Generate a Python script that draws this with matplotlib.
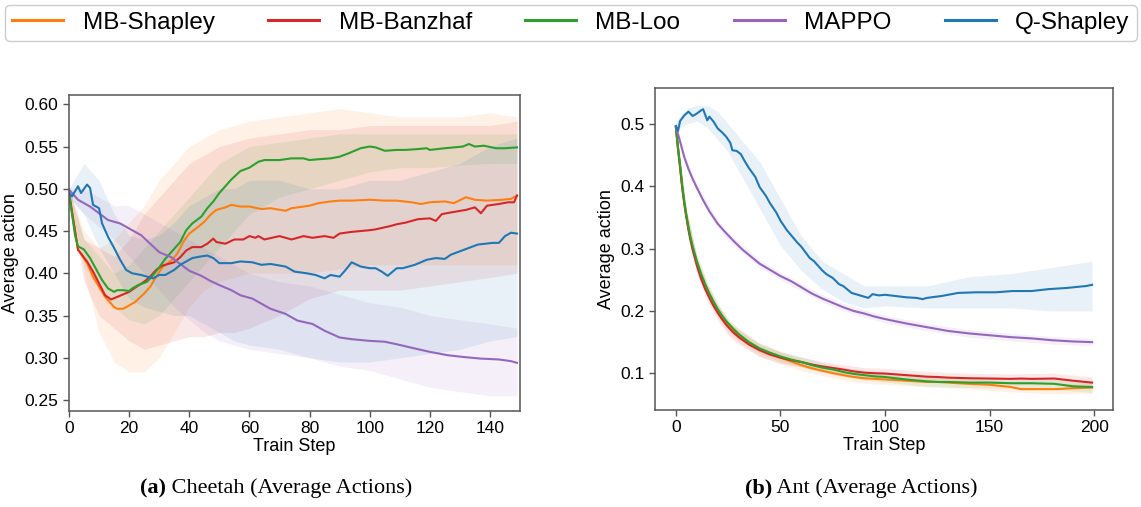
import matplotlib
matplotlib.use("Agg")
import matplotlib.pyplot as plt
from matplotlib.lines import Line2D

plt.rcParams['font.family'] = ['Liberation Sans', 'DejaVu Sans']

methodNames = ["MB-Shapley", "MB-Banzhaf", "MB-Loo", "MAPPO", "Q-Shapley"]
methodColors = ["#ff7f0e", "#d62728", "#2ca02c", "#9467bd", "#1f77b4"]

# ---------------- (a) Cheetah ----------------
cheetahShapleyX = [0,3,6,8,10,12,15,16,18,20,22,25,27,29,31,34,36,38,40,43,45,47,49,52,54,57,60,64,67,72,74,80,83,87,90,94,100,105,109,114,117,120,125,128,132,135,139,144,147,149]
cheetahShapleyY = [0.495,0.428,0.412,0.396,0.384,0.372,0.360,0.358,0.358,0.362,0.366,0.376,0.384,0.396,0.407,0.415,0.423,0.437,0.447,0.455,0.461,0.469,0.475,0.478,0.481,0.479,0.479,0.476,0.477,0.474,0.477,0.480,0.483,0.485,0.486,0.486,0.487,0.486,0.486,0.484,0.482,0.484,0.485,0.483,0.490,0.487,0.486,0.487,0.488,0.492]

cheetahBanzhafX = [0,3,6,8,10,12,14,16,18,20,22,25,27,29,31,34,35,37,39,41,44,46,48,49,52,55,58,60,62,63,65,70,74,78,81,85,88,90,94,100,102,107,109,112,116,120,122,124,127,132,135,137,139,143,146,148,149]
cheetahBanzhafY = [0.495,0.428,0.414,0.402,0.388,0.374,0.369,0.372,0.375,0.378,0.383,0.390,0.396,0.404,0.409,0.412,0.413,0.419,0.427,0.431,0.431,0.435,0.441,0.437,0.435,0.440,0.440,0.444,0.442,0.444,0.440,0.444,0.440,0.444,0.442,0.444,0.442,0.447,0.449,0.451,0.452,0.456,0.458,0.460,0.464,0.465,0.462,0.470,0.472,0.475,0.478,0.471,0.480,0.482,0.484,0.484,0.492]

cheetahLooX = [0,2,3,5,7,9,11,13,15,16,18,20,21,23,26,28,30,32,35,37,39,41,44,46,48,50,54,57,60,63,65,70,74,78,80,83,87,90,93,97,100,102,105,109,112,116,119,120,125,128,131,133,135,138,142,145,149]
cheetahLooY = [0.495,0.445,0.432,0.428,0.418,0.405,0.392,0.382,0.378,0.380,0.380,0.379,0.382,0.386,0.390,0.398,0.407,0.417,0.429,0.437,0.451,0.459,0.467,0.477,0.485,0.495,0.511,0.521,0.525,0.532,0.534,0.534,0.536,0.536,0.534,0.535,0.536,0.538,0.542,0.548,0.550,0.549,0.545,0.546,0.546,0.547,0.548,0.546,0.548,0.549,0.550,0.553,0.550,0.551,0.548,0.548,0.549]

cheetahMappoX = [0,3,7,10,13,17,20,24,27,30,34,37,40,44,47,50,54,57,61,64,67,72,76,81,85,90,94,100,105,109,115,120,126,131,137,143,147,149]
cheetahMappoY = [0.499,0.487,0.479,0.471,0.463,0.459,0.453,0.445,0.435,0.425,0.419,0.411,0.403,0.397,0.391,0.386,0.380,0.374,0.370,0.364,0.358,0.352,0.344,0.340,0.332,0.324,0.322,0.320,0.319,0.316,0.311,0.307,0.303,0.301,0.299,0.298,0.296,0.294]

cheetahQShapleyX = [0,1,3,4,6,7,8,10,11,13,15,17,19,21,24,26,28,30,32,35,37,39,41,44,46,48,50,54,57,61,64,67,72,75,79,82,85,87,90,92,94,97,100,102,104,106,107,109,111,115,119,122,125,127,130,133,136,141,143,145,147,149]
cheetahQShapleyY = [0.495,0.491,0.503,0.495,0.505,0.501,0.481,0.477,0.459,0.443,0.430,0.416,0.404,0.400,0.398,0.396,0.394,0.398,0.398,0.404,0.410,0.414,0.418,0.420,0.421,0.418,0.412,0.412,0.414,0.413,0.410,0.411,0.408,0.402,0.400,0.398,0.394,0.398,0.396,0.404,0.413,0.408,0.406,0.406,0.402,0.397,0.400,0.406,0.406,0.410,0.416,0.418,0.417,0.422,0.426,0.430,0.434,0.436,0.436,0.444,0.448,0.447]

cheetahBandX = [0,5,10,15,20,25,30,35,40,45,50,55,60,70,80,90,100,110,120,130,140,149]
cheetahShapleyLow = [0.49,0.40,0.33,0.295,0.283,0.283,0.30,0.33,0.36,0.38,0.39,0.395,0.40,0.40,0.40,0.405,0.41,0.41,0.41,0.41,0.41,0.41]
cheetahShapleyHigh = [0.50,0.45,0.43,0.44,0.46,0.48,0.51,0.53,0.55,0.56,0.57,0.575,0.58,0.585,0.59,0.595,0.59,0.585,0.585,0.585,0.59,0.585]
cheetahBanzhafLow = [0.49,0.39,0.35,0.335,0.32,0.31,0.315,0.32,0.325,0.325,0.33,0.33,0.335,0.35,0.37,0.38,0.38,0.38,0.385,0.39,0.395,0.40]
cheetahBanzhafHigh = [0.50,0.44,0.43,0.42,0.44,0.47,0.49,0.51,0.53,0.54,0.55,0.555,0.56,0.565,0.57,0.57,0.575,0.575,0.575,0.575,0.575,0.58]
cheetahLooLow = [0.49,0.41,0.38,0.36,0.345,0.34,0.35,0.37,0.39,0.41,0.43,0.45,0.47,0.49,0.50,0.51,0.52,0.525,0.525,0.528,0.53,0.53]
cheetahLooHigh = [0.50,0.44,0.42,0.40,0.41,0.43,0.45,0.47,0.49,0.51,0.53,0.54,0.55,0.555,0.56,0.565,0.565,0.565,0.565,0.565,0.565,0.565]
cheetahMappoLow = [0.49,0.47,0.455,0.44,0.42,0.40,0.38,0.36,0.345,0.33,0.32,0.315,0.31,0.305,0.30,0.29,0.285,0.275,0.265,0.26,0.255,0.255]
cheetahMappoHigh = [0.50,0.50,0.49,0.48,0.48,0.47,0.46,0.45,0.44,0.43,0.42,0.41,0.40,0.39,0.385,0.375,0.365,0.36,0.35,0.345,0.34,0.335]
cheetahQShapleyLow = [0.49,0.47,0.43,0.40,0.37,0.36,0.355,0.35,0.35,0.34,0.33,0.32,0.315,0.31,0.30,0.295,0.295,0.30,0.305,0.31,0.32,0.325]
cheetahQShapleyHigh = [0.50,0.53,0.51,0.47,0.445,0.44,0.445,0.46,0.48,0.49,0.50,0.50,0.51,0.51,0.50,0.50,0.51,0.51,0.52,0.53,0.55,0.56]

# ---------------- (b) Ant ----------------
antSwarmX = [0,1,2,3,4,5,6,7,8,10,12,14,16,18,20,22,24,27,30,35,40,45,50,55,60,65,70,76,80,85,90,95,100,110,120,125,130,140,150,160,165,170,181,190,199]
antShapleyY = [0.495,0.462,0.432,0.400,0.374,0.352,0.333,0.316,0.302,0.278,0.258,0.241,0.226,0.213,0.201,0.191,0.182,0.171,0.161,0.148,0.138,0.131,0.125,0.119,0.113,0.108,0.104,0.0995,0.097,0.094,0.092,0.091,0.090,0.088,0.086,0.086,0.085,0.083,0.0815,0.078,0.0745,0.0745,0.0745,0.076,0.077]
antBanzhafY = [0.495,0.460,0.430,0.398,0.372,0.350,0.330,0.313,0.298,0.273,0.252,0.235,0.221,0.208,0.197,0.187,0.178,0.167,0.158,0.146,0.137,0.130,0.125,0.121,0.118,0.114,0.111,0.108,0.106,0.103,0.101,0.100,0.0995,0.097,0.0945,0.094,0.093,0.092,0.0915,0.091,0.0915,0.091,0.0915,0.088,0.085]
antLooY = [0.495,0.462,0.433,0.402,0.376,0.354,0.335,0.318,0.304,0.280,0.260,0.243,0.228,0.215,0.203,0.193,0.184,0.173,0.163,0.150,0.140,0.133,0.127,0.122,0.118,0.113,0.109,0.1055,0.102,0.099,0.097,0.095,0.094,0.090,0.087,0.086,0.086,0.085,0.085,0.084,0.084,0.084,0.083,0.079,0.078]

antMappoX = [0,2,4,6,8,10,13,16,20,24,28,32,36,40,45,50,55,60,65,70,75,80,85,90,95,100,110,120,130,140,150,160,170,180,190,199]
antMappoY = [0.496,0.472,0.447,0.428,0.412,0.398,0.378,0.360,0.340,0.325,0.311,0.298,0.287,0.276,0.266,0.256,0.248,0.238,0.228,0.220,0.213,0.206,0.200,0.196,0.191,0.187,0.180,0.174,0.168,0.164,0.161,0.158,0.156,0.153,0.151,0.150]

antQShapleyX = [0,1,2,4,6,8,10,12,13,15,16,18,20,22,24,26,27,29,31,33,35,38,40,43,45,48,50,53,55,58,60,62,64,66,70,72,75,78,80,84,89,92,94,97,100,105,110,115,118,120,127,135,144,153,161,170,178,187,196,199]
antQShapleyY = [0.497,0.489,0.505,0.514,0.520,0.513,0.517,0.522,0.524,0.506,0.512,0.504,0.493,0.487,0.480,0.470,0.458,0.457,0.452,0.440,0.429,0.415,0.399,0.385,0.373,0.358,0.345,0.330,0.322,0.310,0.303,0.294,0.285,0.280,0.265,0.259,0.253,0.243,0.240,0.229,0.224,0.221,0.227,0.225,0.226,0.224,0.222,0.221,0.219,0.221,0.224,0.229,0.230,0.230,0.232,0.232,0.235,0.237,0.240,0.242]

antBandX = [0,5,10,15,20,25,30,40,50,60,70,80,90,100,120,140,160,180,199]
antShapleyLow = [0.49,0.34,0.265,0.222,0.19,0.165,0.15,0.127,0.115,0.104,0.096,0.089,0.084,0.082,0.078,0.075,0.07,0.067,0.068]
antShapleyHigh = [0.50,0.364,0.29,0.246,0.212,0.187,0.172,0.149,0.135,0.122,0.112,0.105,0.100,0.098,0.094,0.091,0.086,0.082,0.086]
antBanzhafLow = [0.49,0.338,0.26,0.215,0.185,0.161,0.147,0.127,0.116,0.110,0.103,0.098,0.093,0.091,0.086,0.084,0.083,0.083,0.077]
antBanzhafHigh = [0.50,0.362,0.286,0.241,0.209,0.183,0.169,0.147,0.134,0.126,0.119,0.114,0.109,0.108,0.103,0.100,0.099,0.100,0.094]
antLooLow = [0.49,0.344,0.27,0.225,0.194,0.169,0.155,0.132,0.119,0.110,0.101,0.094,0.089,0.086,0.079,0.077,0.076,0.074,0.069]
antLooHigh = [0.50,0.364,0.29,0.245,0.212,0.187,0.171,0.148,0.135,0.126,0.117,0.110,0.105,0.102,0.095,0.093,0.092,0.091,0.087]
antMappoLow = [0.492,0.430,0.392,0.362,0.334,0.313,0.299,0.270,0.250,0.232,0.214,0.200,0.190,0.181,0.168,0.158,0.152,0.147,0.144]
antMappoHigh = [0.500,0.443,0.404,0.374,0.346,0.325,0.311,0.282,0.262,0.244,0.226,0.212,0.202,0.193,0.180,0.170,0.164,0.159,0.156]
antQShapleyLow = [0.49,0.50,0.505,0.495,0.475,0.455,0.425,0.365,0.305,0.265,0.235,0.215,0.205,0.208,0.205,0.205,0.205,0.20,0.20]
antQShapleyHigh = [0.505,0.525,0.53,0.53,0.52,0.50,0.48,0.44,0.38,0.32,0.28,0.26,0.24,0.24,0.24,0.255,0.26,0.27,0.28]


def styleAxes(ax):
    for spine in ax.spines.values():
        spine.set_color("#555555")
        spine.set_linewidth(1.1)
    ax.tick_params(axis="both", labelsize=12.5, color="#555555", length=4, width=1.0)
    ax.set_xlabel("Train Step", fontsize=13, labelpad=1)
    ax.set_ylabel("Average action", fontsize=13, labelpad=4)


def addCaption(fig, centerX, centerY, boldPart, plainPart):
    # bold "(a)" followed by plain text, centred as one line
    serif = ['Liberation Serif', 'DejaVu Serif']
    renderer = fig.canvas.get_renderer()
    boldText = fig.text(0, centerY, boldPart, family=serif, fontsize=16, fontweight="bold", ha="left", va="center")
    plainText = fig.text(0, centerY, plainPart, family=serif, fontsize=16, ha="left", va="center")
    boldWidth = boldText.get_window_extent(renderer).width / fig.bbox.width
    plainWidth = plainText.get_window_extent(renderer).width / fig.bbox.width
    startX = centerX - (boldWidth + plainWidth) / 2
    boldText.set_x(startX)
    plainText.set_x(startX + boldWidth)


fig = plt.figure(figsize=(11.41, 5.07), dpi=100)
W, H = 1141.0, 507.0
leftAx = fig.add_axes([69 / W, 1 - 411 / H, (520 - 69) / W, (411 - 95) / H])
rightAx = fig.add_axes([655 / W, 1 - 410 / H, (1113 - 655) / W, (410 - 88) / H])

# bands first, lines above
cheetahBands = [(cheetahShapleyLow, cheetahShapleyHigh), (cheetahBanzhafLow, cheetahBanzhafHigh),
                (cheetahLooLow, cheetahLooHigh), (cheetahMappoLow, cheetahMappoHigh),
                (cheetahQShapleyLow, cheetahQShapleyHigh)]
for (low, high), color in zip(cheetahBands, methodColors):
    leftAx.fill_between(cheetahBandX, low, high, color=color, alpha=0.1, linewidth=0)
cheetahLines = [(cheetahShapleyX, cheetahShapleyY), (cheetahBanzhafX, cheetahBanzhafY),
                (cheetahLooX, cheetahLooY), (cheetahMappoX, cheetahMappoY),
                (cheetahQShapleyX, cheetahQShapleyY)]
for (xs, ys), color in zip(cheetahLines, methodColors):
    leftAx.plot(xs, ys, color=color, linewidth=1.5)

leftAx.set_xlim(0, 150)
leftAx.set_ylim(0.237, 0.611)
leftAx.set_xticks(range(0, 141, 20))
leftAx.set_yticks([0.25, 0.30, 0.35, 0.40, 0.45, 0.50, 0.55, 0.60])
leftAx.set_yticklabels(["%.2f" % v for v in [0.25, 0.30, 0.35, 0.40, 0.45, 0.50, 0.55, 0.60]])
styleAxes(leftAx)

antBands = [(antShapleyLow, antShapleyHigh), (antBanzhafLow, antBanzhafHigh),
            (antLooLow, antLooHigh), (antMappoLow, antMappoHigh),
            (antQShapleyLow, antQShapleyHigh)]
for (low, high), color in zip(antBands, methodColors):
    rightAx.fill_between(antBandX, low, high, color=color, alpha=0.1, linewidth=0)
antLines = [(antSwarmX, antShapleyY), (antSwarmX, antBanzhafY), (antSwarmX, antLooY),
            (antMappoX, antMappoY), (antQShapleyX, antQShapleyY)]
for (xs, ys), color in zip(antLines, methodColors):
    rightAx.plot(xs, ys, color=color, linewidth=1.5)

rightAx.set_xlim(-10, 209)
rightAx.set_ylim(0.041, 0.558)
rightAx.set_xticks([0, 50, 100, 150, 200])
rightAx.set_yticks([0.1, 0.2, 0.3, 0.4, 0.5])
styleAxes(rightAx)

handles = [Line2D([0], [0], color=c, linewidth=2.2) for c in methodColors]
fig.legend(handles, methodNames, loc="center", bbox_to_anchor=(5 / W, 1 - 43 / H, 1132 / W, 40 / H),
           mode="expand", ncol=5, fontsize=17.5, handlelength=2.1, handletextpad=0.8,
           borderaxespad=0, borderpad=0.3, frameon=True, fancybox=True, edgecolor="#cccccc", framealpha=1)

addCaption(fig, 276 / W, 1 - 488 / H, "(a)", " Cheetah (Average Actions)")
addCaption(fig, 861 / W, 1 - 488 / H, "(b)", " Ant (Average Actions)")

fig.savefig("out.png", dpi=100)
